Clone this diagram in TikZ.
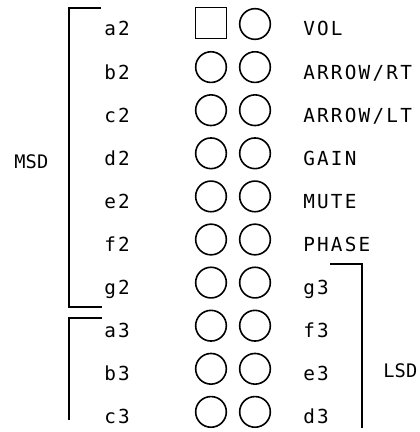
\documentclass[tikz,border=0pt]{standalone}
\usepackage{fontspec}
\newfontfamily\plotfont[LetterSpace=11.5]{DejaVu Sans Mono}
\newfontfamily\sidefont[LetterSpace=1]{DejaVu Sans Mono}
\begin{document}
\begin{tikzpicture}[x=0.75pt,y=-0.75pt,
  lbl/.style={font=\plotfont\fontsize{14.5}{16}\selectfont, inner sep=0, anchor=base west},
  side/.style={font=\sidefont\fontsize{14}{16}\selectfont, inner sep=0, anchor=base west},
  pad/.style={draw, circle, line width=1.2pt, minimum size=23pt, inner sep=0},
  sq/.style={draw, rectangle, line width=1.2pt, minimum size=23pt, inner sep=0},
  br/.style={line width=1.1pt}]
\useasboundingbox (0,0) rectangle (420,432);
\foreach \l/\r [count=\i from 0] in {a2/VOL, b2/{ARROW/RT}, c2/{ARROW/LT}, d2/GAIN, e2/MUTE, f2/PHASE, g2/g3, a3/f3, b3/e3, c3/d3}{
  \pgfmathsetmacro\y{24+43.1*\i}
  \node[lbl] (L\i) at (104,\y+12) {\l};
  \node[lbl] (R\i) at (303,\y+12) {\r};
  \ifnum\i=0
    \node[sq] (P\i) at (211,\y-1) {};
  \else
    \node[pad] (P\i) at (211,\y) {};
  \fi
  \node[pad] (Q\i) at (255,\y) {};
}
\coordinate (m1) at (101,8);
\coordinate (m2) at (69,8);
\coordinate (m3) at (69,307);
\coordinate (m4) at (102,307);
\draw[br] (m1) -- (m2) -- (m3) -- (m4);
\coordinate (n1) at (102,318);
\coordinate (n2) at (69,318);
\coordinate (n3) at (69,420);
\draw[br] (n1) -- (n2) -- (n3);
\coordinate (k1) at (330,264);
\coordinate (k2) at (362,264);
\coordinate (k3) at (362,428);
\draw[br] (k1) -- (k2) -- (k3);
\node[side] (msd) at (14,168) {MSD};
\node[side] (lsd) at (383,377) {LSD};
\end{tikzpicture}
\end{document}
